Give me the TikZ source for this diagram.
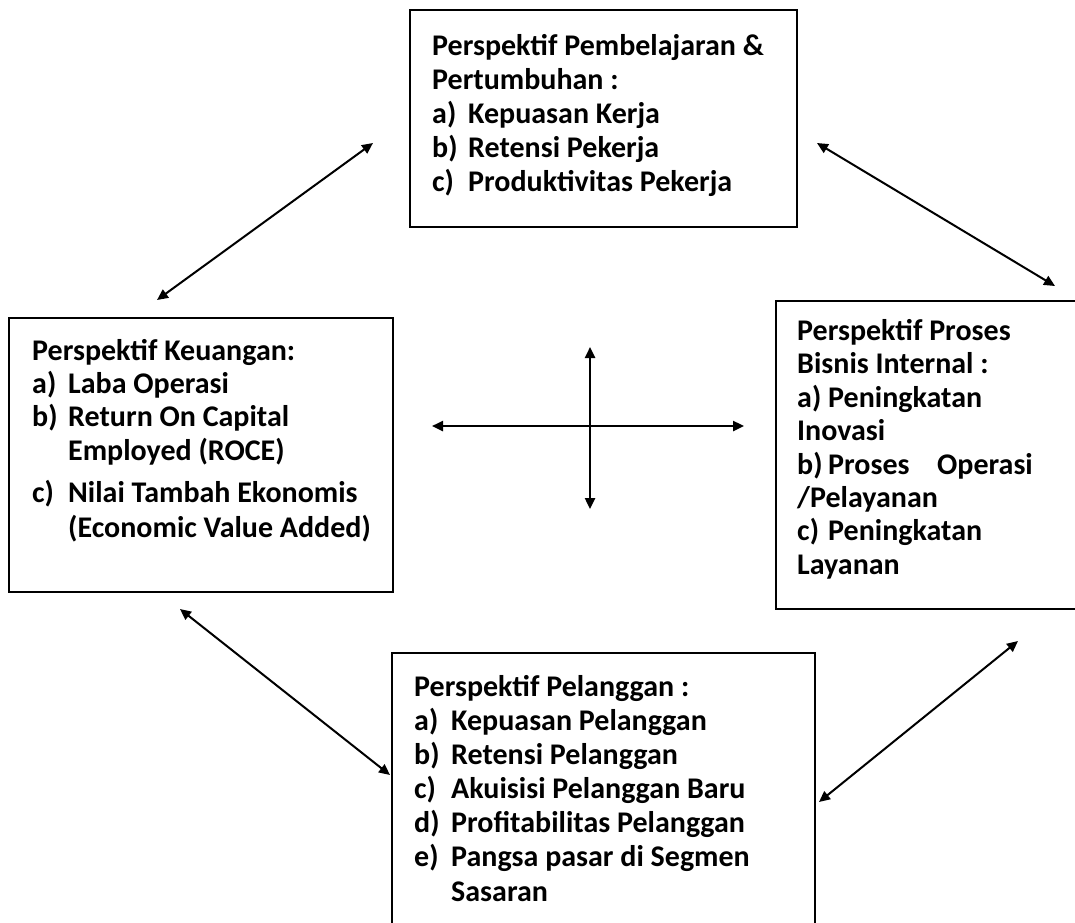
\documentclass[tikz,border=0pt]{standalone}
\usepackage{fontspec}
\setmainfont{Carlito}
\usetikzlibrary{arrows.meta}
\newcommand{\itm}[2]{\makebox[#1][l]{#2}}
\begin{document}
\begin{tikzpicture}[x=1pt,y=-1pt,
  box/.style={draw, line width=2pt, inner sep=0pt},
  txt/.style={anchor=base west, inner sep=0pt, font=\fontsize{30}{34}\selectfont\bfseries},
  tip/.tip={Triangle[length=11pt,width=10pt]},
  link/.style={line width=2pt, tip-tip},
  axis/.style={line width=2.4pt, tip-tip},
]
\useasboundingbox (0,0) rectangle (1075,922);

% the four perspective boxes
\node[box, minimum width=387pt, minimum height=217pt] (learn) at (603.5,118.5) {};
\node[box, minimum width=384pt, minimum height=274pt] (fin)   at (201,455) {};
\node[box, minimum width=309pt, minimum height=308pt] (proc)  at (930.5,455) {};
\node[box, minimum width=423pt, minimum height=282pt] (cust)  at (603.5,794) {};

% learning & growth
\node[txt] (learn1) at (432,55)  {Perspektif Pembelajaran \&};
\node[txt] (learn2) at (432,89)  {Pertumbuhan :};
\node[txt] (learn3) at (432,123) {\itm{36pt}{a)}Kepuasan Kerja};
\node[txt] (learn4) at (432,157) {\itm{36pt}{b)}Retensi Pekerja};
\node[txt] (learn5) at (432,191) {\itm{36pt}{c)}Produktivitas Pekerja};

% financial
\node[txt] (fin1) at (32,360) {Perspektif Keuangan:};
\node[txt] (fin2) at (32,393) {\itm{36pt}{a)}Laba Operasi};
\node[txt] (fin3) at (32,426) {\itm{36pt}{b)}Return On Capital};
\node[txt] (fin4) at (68,460) {Employed (ROCE)};
\node[txt] (fin5) at (32,502) {\itm{36pt}{c)}Nilai Tambah Ekonomis};
\node[txt] (fin6) at (68,537) {(Economic Value Added)};

% internal business process
\node[txt] (proc1) at (797,340) {Perspektif Proses};
\node[txt] (proc2) at (797,373) {Bisnis Internal :};
\node[txt] (proc3) at (797,407) {\itm{31pt}{a)}Peningkatan};
\node[txt] (proc4) at (797,440) {Inovasi};
\node[txt] (proc5) at (797,474) {\itm{31pt}{b)}\itm{109pt}{Proses}Operasi};
\node[txt] (proc6) at (797,507) {/Pelayanan};
\node[txt] (proc7) at (797,540) {\itm{31pt}{c)}Peningkatan};
\node[txt] (proc8) at (797,574) {Layanan};

% customer
\node[txt] (cust1) at (414,696) {Perspektif Pelanggan :};
\node[txt] (cust2) at (414,730) {\itm{37pt}{a)}Kepuasan Pelanggan};
\node[txt] (cust3) at (414,764) {\itm{37pt}{b)}Retensi Pelanggan};
\node[txt] (cust4) at (414,798) {\itm{37pt}{c)}Akuisisi Pelanggan Baru};
\node[txt] (cust5) at (414,832) {\itm{37pt}{d)}Profitabilitas Pelanggan};
\node[txt] (cust6) at (414,866) {\itm{37pt}{e)}Pangsa pasar di Segmen};
\node[txt] (cust7) at (451,901) {Sasaran};

% ends of the two-way links
\coordinate (finTop)   at (157,300);
\coordinate (learnL)   at (373,143);
\coordinate (learnR)   at (817,143);
\coordinate (procTop)  at (1055,286);
\coordinate (finBot)   at (180,609);
\coordinate (custL)    at (390,775);
\coordinate (custR)    at (819,802);
\coordinate (procBot)  at (1018,641);
\coordinate (axW) at (432,426);
\coordinate (axE) at (744,426);
\coordinate (axN) at (590,347);
\coordinate (axS) at (590,509);

\draw[link] (finTop) -- (learnL);
\draw[link] (learnR) -- (procTop);
\draw[link] (finBot) -- (custL);
\draw[link] (custR) -- (procBot);
\draw[axis] (axW) -- (axE);
\draw[axis] (axN) -- (axS);
\end{tikzpicture}
\end{document}
